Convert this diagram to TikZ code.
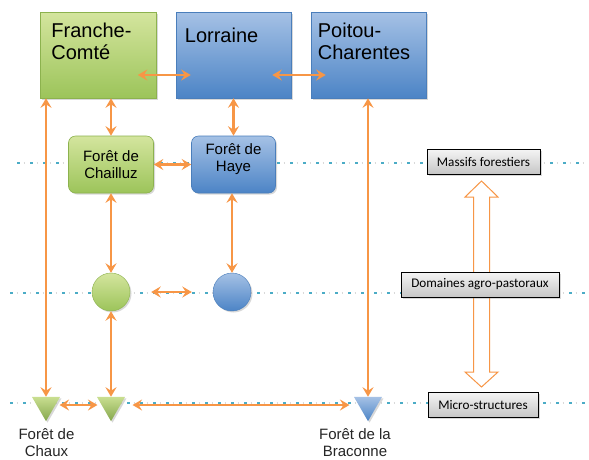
\documentclass[tikz,border=0pt]{standalone}
\usepackage{fontspec}
\setmainfont{Liberation Sans}
\newfontfamily\calibri{Carlito}
\usetikzlibrary{arrows.meta,shapes.geometric,shadows,calc}
\definecolor{orng}{HTML}{F79646}
\definecolor{gtop}{HTML}{D4E59E}
\definecolor{gbot}{HTML}{9CC45A}
\definecolor{gline}{HTML}{8CB24E}
\definecolor{btop}{HTML}{A5C1E5}
\definecolor{bbot}{HTML}{4C84C6}
\definecolor{bline}{HTML}{4A7EBB}
\definecolor{dotc}{HTML}{4BACC6}
\definecolor{ltop}{HTML}{F5F5F5}
\definecolor{lbot}{HTML}{C6C6C6}
\tikzset{
  shad/.style={drop shadow={shadow xshift=1.5pt,shadow yshift=-1.5pt,opacity=0.3}},
  gbox/.style={shad,top color=gtop,bottom color=gbot,draw=gline,line width=0.6pt,inner sep=0},
  bbox/.style={shad,top color=btop,bottom color=bbot,draw=bline,line width=0.6pt,inner sep=0},
  bigtxt/.style={font=\fontsize{20}{22}\selectfont,align=left,inner sep=0,text=black},
  midtxt/.style={font=\fontsize{15}{17.5}\selectfont,align=center,text=black},
  smtxt/.style={font=\fontsize{15}{16.5}\selectfont,align=center,inner sep=0,text=black!85},
  lvl/.style={shad,top color=ltop,bottom color=lbot,draw=black,line width=1pt,
    font=\calibri\fontsize{13.2}{15}\selectfont,inner sep=0},
  tri/.style={regular polygon,regular polygon sides=3,shape border rotate=180,
    minimum size=32.3pt,inner sep=0,shad},
  tipa/.tip={Stealth[length=9.5pt,width=11pt,inset=3.5pt]},
  arr/.style={orng,line width=2.8pt,tipa-tipa},
  dots/.style={dotc,line width=2.8pt,dash pattern=on 2.8pt off 10.2pt},
  gdots/.style={gray!30,line width=1.6pt,dash pattern=on 1.6pt off 11.4pt,dash phase=-6.5pt}
}
\begin{document}
\begin{tikzpicture}[x=1pt,y=-1pt]
\useasboundingbox[fill=white] (0,0) rectangle (589,459);
% level lines
\draw[gdots] (17,163) -- (589,163);
\draw[dots] (17,163) -- (589,163);
\draw[gdots] (10,293) -- (589,293);
\draw[dots] (10,293) -- (589,293);
\draw[gdots] (10,403) -- (589,403);
\draw[dots] (10,403) -- (589,403);
% hollow double arrow
\draw[orng,fill=white,line width=1pt,line join=miter]
  (481.5,181) -- (498,197) -- (489.5,197) -- (489.5,372) -- (498,372) -- (481.5,387)
  -- (465,372) -- (473.5,372) -- (473.5,197) -- (465,197) -- cycle;
% regions
\node[gbox,minimum width=116pt,minimum height=86pt] (fc) at (98.5,55) {};
\node[bbox,minimum width=115pt,minimum height=86pt] (lor) at (233.5,55) {};
\node[bbox,minimum width=115pt,minimum height=86pt] (poi) at (368.5,55) {};
\node[bigtxt,anchor=north west] (fctxt) at ($(fc.north west)+(11,11.5)$) {Franche-\\Comté};
\node[bigtxt,anchor=north west] (lortxt) at ($(lor.north west)+(9,16.5)$) {Lorraine};
\node[bigtxt,anchor=north west] (poitxt) at ($(poi.north west)+(7,11)$) {Poitou-\\Charentes};
% forests
\node[gbox,midtxt,rounded corners=7pt,minimum width=85pt,minimum height=57pt] (chailluz) at (111,164.5) {Forêt de\\Chailluz};
\node[bbox,midtxt,rounded corners=7pt,minimum width=84pt,minimum height=57pt] (haye) at (233.5,164.5) {Forêt de\\Haye\\[-4pt]};
% domains
\node[circle,shad,top color=gtop,bottom color=gbot,draw=gline,line width=0.4pt,minimum size=38pt,inner sep=0] (gc) at (111,292) {};
\node[circle,shad,top color=btop,bottom color=bbot,draw=bline,line width=0.4pt,minimum size=38pt,inner sep=0] (bc) at (232,292) {};
% micro
\node[tri,top color=gtop!80!gbot,bottom color=gbot!85!black] (t1) at (46,405) {};
\node[tri,top color=gtop!80!gbot,bottom color=gbot!85!black] (t2) at (111,405) {};
\node[tri,top color=btop,bottom color=bbot] (t3) at (368,405) {};
\node[smtxt,anchor=north] (chaux) at (46.5,428.5) {Forêt de\\Chaux};
\node[smtxt,anchor=north] (braconne) at (355,428.5) {Forêt de la\\Braconne};
% connectors
\draw[arr] ($(fc.east)+(-19,20)$) -- ($(lor.west)+(15,20)$);
\draw[arr] ($(lor.east)+(-19,20)$) -- ($(poi.west)+(15,20)$);
\draw[arr] (fc.south -| chailluz.north) -- (chailluz.north);
\draw[arr] (lor.south) -- (haye.north);
\draw[arr] (chailluz) -- (haye);
\draw[arr] (chailluz) -- (gc);
\draw[arr] (haye.south -| bc.north) -- (bc.north);
\draw[arr,shorten <=21pt,shorten >=21pt] (gc) -- (bc);
\draw[arr] (gc) -- (t2);
\draw[arr] (fc.south -| t1.north) -- (t1.north);
\draw[arr] (poi.south -| t3.north) -- (t3.north);
\draw[arr,shorten <=4pt,shorten >=4pt] (t1) -- (t2);
\draw[arr,shorten <=12pt,shorten >=9pt] (t2) -- (t3);
% level labels
\node[lvl,minimum width=113pt,minimum height=25pt] (massifs) at (483.5,161.5) {Massifs forestiers};
\node[lvl,minimum width=158pt,minimum height=25pt] (domaines) at (480,284.5) {Domaines agro-pastoraux};
\node[lvl,minimum width=110pt,minimum height=25pt] (micro) at (483,404.5) {Micro-structures};
\end{tikzpicture}
\end{document}
